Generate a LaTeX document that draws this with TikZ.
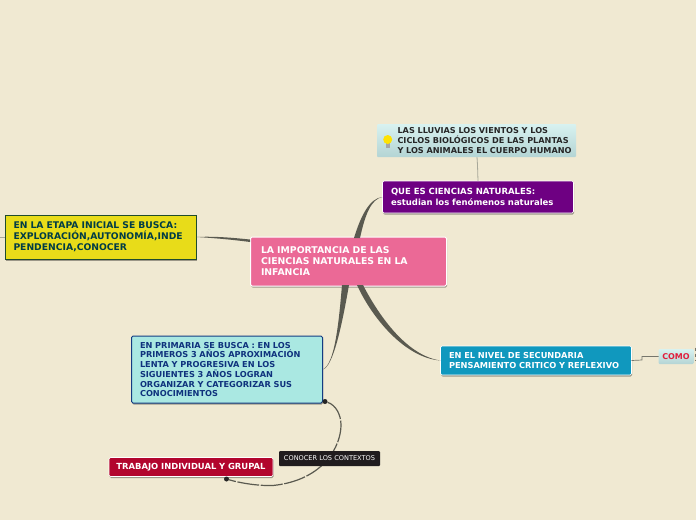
\documentclass[tikz,border=0pt]{standalone}
\usepackage{fontspec}
\usepackage{xcolor}
\usepackage{tikz}
\usetikzlibrary{shadows}
\setmainfont{DejaVu Sans}
\definecolor{paper}{HTML}{F0E9D2}
\definecolor{stem}{HTML}{5A5A50}
\definecolor{twig}{HTML}{A8A89A}
\definecolor{rootpink}{RGB}{235,105,150}
\definecolor{whatpurple}{RGB}{110,0,130}
\definecolor{earlyyellow}{RGB}{232,220,25}
\definecolor{highblue}{RGB}{16,152,190}
\definecolor{primaqua}{RGB}{170,232,226}
\definecolor{teamred}{RGB}{178,5,45}
\definecolor{paletop}{RGB}{216,242,240}
\definecolor{palebot}{RGB}{180,212,212}
\tikzset{
  topic/.style={rounded corners=1.5pt, outer sep=0pt, inner ysep=0pt, inner xsep=8.5pt, align=left, anchor=north west,
    drop shadow={shadow xshift=.6pt, shadow yshift=-1.5pt, fill=black, opacity=.35}},
  note/.style={rounded corners=1pt, outer sep=0pt, inner sep=0pt, anchor=north west, top color=paletop, bottom color=palebot},
  dot/.style={circle, fill=black!85, inner sep=0pt, minimum size=5pt},
}
\begin{document}
\begin{tikzpicture}[x=1pt,y=-1pt]
\useasboundingbox[fill=paper] (0,0) rectangle (696,520);
% topics
\node[topic, draw=white, line width=1pt, fill=rootpink, text=white, inner xsep=10.5pt, text width=175pt, minimum height=49pt, font=\bfseries\fontsize{9.3}{11}\selectfont] (root) at (250.5,237) {LA IMPORTANCIA DE LAS\\CIENCIAS NATURALES EN LA\\INFANCIA};
\node[topic, draw=white, line width=.6pt, fill=whatpurple, text=white, text width=174pt, minimum height=32pt, font=\bfseries\fontsize{8.5}{10.4}\selectfont] (what) at (382.5,181) {QUE ES CIENCIAS NATURALES:\\estudian los fenómenos naturales};
\node[note, text=black!85, align=left, text width=199pt, minimum height=33pt, font=\bfseries\fontsize{8.15}{9.7}\selectfont] (rain) at (377,124) {\hspace*{20.5pt}LAS LLUVIAS LOS VIENTOS Y LOS\\\hspace*{20.5pt}CICLOS BIOLÓGICOS DE LAS PLANTAS\\\hspace*{20.5pt}Y LOS ANIMALES EL CUERPO HUMANO};
% bulb
\fill[gray!70] (386,143) rectangle (389.5,147.5);
\fill[yellow!85!orange] (387.7,139.5) circle (4.5);
\node[topic, draw={rgb,255:red,30;green,75;blue,45}, line width=1pt, rounded corners=0pt, fill=earlyyellow, text={rgb,255:red,0;green,60;blue,70}, text width=174pt, minimum height=44pt, font=\bfseries\fontsize{9.2}{11}\selectfont] (early) at (5,215) {EN LA ETAPA INICIAL SE BUSCA:\\EXPLORACIÓN,AUTONOMÍA,INDE\\PENDENCIA,CONOCER};
\node[topic, draw=white, line width=.6pt, fill=highblue, text=white, text width=174pt, minimum height=29pt, font=\bfseries\fontsize{8.25}{9.5}\selectfont] (high) at (440.5,346) {EN EL NIVEL DE SECUNDARIA\\PENSAMIENTO CRITICO Y REFLEXIVO};
\node[note, text={rgb,255:red,225;green,30;blue,60}, minimum width=35pt, minimum height=15pt, font=\bfseries\fontsize{8}{9}\selectfont] (how) at (658.5,349) {COMO};
\node[topic, draw={rgb,255:red,20;green,60;blue,130}, line width=1pt, fill=primaqua, text={rgb,255:red,15;green,50;blue,125}, text width=174pt, minimum height=67pt, font=\bfseries\fontsize{8.2}{9.7}\selectfont] (prim) at (131.5,336) {EN PRIMARIA SE BUSCA : EN LOS\\PRIMEROS 3 AÑOS APROXIMACIÓN\\LENTA Y PROGRESIVA EN LOS\\SIGUIENTES 3 AÑOS LOGRAN\\ORGANIZAR Y CATEGORIZAR SUS\\CONOCIMIENTOS};
\node[topic, draw=white, line width=.6pt, fill=teamred, text=white, inner xsep=0pt, text width=164pt, align=center, minimum height=19pt, font=\bfseries\fontsize{8.4}{9}\selectfont] (team) at (109,457.5) {TRABAJO INDIVIDUAL Y GRUPAL};
\node[dot] (from) at (325,401.5) {};
\node[dot] (to) at (226.5,479) {};
\coordinate (edge) at (0,237);
% connectors
\fill[stem] (342,285) .. controls (339,320) and (335,365) .. (prim.east) .. controls (333,368) and (342,325) .. (349,285) -- cycle;
\fill[stem] (357,285) .. controls (372,318) and (405,358) .. (high.west) .. controls (408,356) and (380,318) .. (363,285) -- cycle;
\fill[stem] (354,238) .. controls (361,215) and (370,198) .. (what.west) .. controls (371,199) and (365,215) .. (360,238) -- cycle;
\fill[stem] (early.east) .. controls (215,236) and (235,238) .. (250,239.5) -- (250,242) .. controls (235,240) and (215,238) .. cycle;
\draw[twig, line width=.8pt] (edge) -- (early.west);
\draw[twig, line width=.8pt] (rain.south)++(.5,0) -- (477.5,165) -- (what.north);
\draw[twig!70!black, line width=.7pt] (high.east) -- (642,360) -- (642,356.5) -- (how.west);
\draw[twig!70!black, line width=1pt, dash pattern=on 3pt off 3pt] (695.5,347.5) -- (695.5,360);
\draw[stem, line width=1.2pt, dash pattern=on 22pt off 1.6pt] (from) .. controls (336,405) and (341,415) .. (341,425) .. controls (341,445) and (325,480) .. (273,485.5) .. controls (258,486) and (240,483) .. (to);
\node[fill={rgb,255:red,32;green,28;blue,30}, rounded corners=1pt, text=white!85, font=\fontsize{6.6}{8}\selectfont, minimum width=101pt, minimum height=15pt, inner sep=0pt] (ctx) at (329.5,458.5) {CONOCER LOS CONTEXTOS};
\end{tikzpicture}
\end{document}
